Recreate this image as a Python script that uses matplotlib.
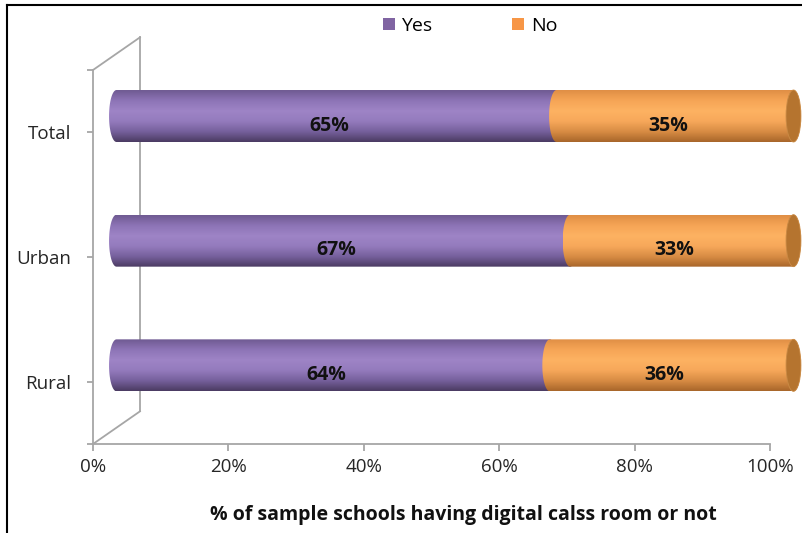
import numpy as np
import matplotlib
matplotlib.use("Agg")
import matplotlib.pyplot as plt
from matplotlib.patches import PathPatch, Ellipse, Patch
from matplotlib.path import Path
from matplotlib.colors import LinearSegmentedColormap
from matplotlib.lines import Line2D

plt.rcParams['font.family'] = ['Open Sans', 'DejaVu Sans']

# данные
categories = ['Rural', 'Urban', 'Total']
yes_vals = [64, 67, 65]
no_vals = [36, 33, 35]
series_names = ['Yes', 'No']
x_ticks = [0, 20, 40, 60, 80, 100]

# цвета цилиндров (сверху вниз)
purple_grad = ['#6f5a92', '#8d74b6', '#9e84c6', '#947bbd', '#76609c', '#4b3b62']
orange_grad = ['#e08f45', '#f6a556', '#fdb262', '#f7a85a', '#d88c44', '#a8662a']
purple = '#8064a2'
orange = '#f79646'
cap_color = '#b5742f'
axis_grey = '#a6a6a6'

fig = plt.figure(figsize=(8.03, 5.33), dpi=100)
ax = fig.add_axes([93 / 803, 1 - 444 / 533, 677 / 803, 374 / 533])
ax.set_xlim(0, 100)
ax.set_ylim(-0.5, 2.5)

# 3D смещение задней стенки
wall_dx, wall_dy = 6.94, 0.262
bar_dx, bar_dy = wall_dx / 2, wall_dy / 2
bar_h = 0.417
ell_a = 1.1  # полуось торца в %


def cyl_path(x0, x1, yc, b, a):
    t = np.linspace(np.pi / 2, -np.pi / 2, 40)
    right = np.column_stack([x1 + a * np.cos(t), yc + b * np.sin(t)])
    t2 = np.linspace(-np.pi / 2, -3 * np.pi / 2, 40)
    left = np.column_stack([x0 + a * np.cos(t2), yc + b * np.sin(t2)])
    verts = np.vstack([right, left, right[:1]])
    codes = [Path.MOVETO] + [Path.LINETO] * (len(verts) - 2) + [Path.CLOSEPOLY]
    return Path(verts, codes)


def draw_cyl(x0, x1, yc, colors, z):
    cm = LinearSegmentedColormap.from_list('g', colors)
    b = bar_h / 2
    patch = PathPatch(cyl_path(x0, x1, yc, b, ell_a), facecolor='none',
                      edgecolor='none', transform=ax.transData)
    ax.add_patch(patch)
    grad = np.linspace(0, 1, 200).reshape(-1, 1)
    im = ax.imshow(grad, extent=[x0 - ell_a, x1 + ell_a, yc - b, yc + b],
                   origin='upper', aspect='auto', cmap=cm,
                   interpolation='bicubic', zorder=z)
    im.set_clip_box(fig.bbox)
    im.set_clip_path(patch)


# задняя стенка
wall_kw = dict(color=axis_grey, lw=1.3, clip_on=False, zorder=1)
ax.plot([wall_dx, wall_dx], [-0.5 + wall_dy, 2.5 + wall_dy], **wall_kw)
ax.plot([0, wall_dx], [2.5, 2.5 + wall_dy], **wall_kw)
ax.plot([0, wall_dx], [-0.5, -0.5 + wall_dy], **wall_kw)

for i, cat in enumerate(categories):
    yc = i + bar_dy
    left = 0
    for k, (val, cols) in enumerate([(yes_vals[i], purple_grad), (no_vals[i], orange_grad)]):
        x0 = left + bar_dx
        x1 = left + val + bar_dx
        draw_cyl(x0, x1, yc, cols, 3 + k)
        ax.text(left + val / 2 + bar_dx * 0.7, i + bar_dy * 0.4, f'{val}%',
                ha='center', va='center', fontsize=14, fontweight='bold',
                color='#111111', zorder=10)
        left += val
    cap = Ellipse((left + bar_dx, yc), 2 * ell_a, bar_h, facecolor=cap_color,
                  edgecolor='#c98a45', lw=0.6, zorder=6, clip_on=False)
    ax.add_patch(cap)

ax.set_ylim(-0.5, 2.5)
ax.set_xlim(0, 100)

# оси
for s in ['top', 'right']:
    ax.spines[s].set_visible(False)
for s in ['left', 'bottom']:
    ax.spines[s].set_color(axis_grey)
    ax.spines[s].set_linewidth(1.3)
ax.set_xticks(x_ticks)
ax.set_xticklabels([f'{t}%' for t in x_ticks])
ax.set_yticks(range(len(categories)))
ax.set_yticklabels(categories)
ax.set_yticks([-0.5, 2.5], minor=True)
ax.tick_params(axis='x', colors=axis_grey, labelcolor='#262626', labelsize=13.5,
               length=5, width=1.3, pad=5)
ax.tick_params(axis='y', which='both', colors=axis_grey, labelcolor='#262626',
               labelsize=13.5, length=4, width=1.3, pad=12)
ax.patch.set_visible(False)

ax.set_xlabel('% of sample schools having digital calss room or not',
              fontsize=14, fontweight='bold', color='#111111')
ax.xaxis.set_label_coords((463 - 93) / 677, -(515 - 444) / 374)
ax.xaxis.label.set_va('center')

handles = [Patch(facecolor=purple, label=series_names[0]),
           Patch(facecolor=orange, label=series_names[1])]
fig.legend(handles=handles, loc='center', bbox_to_anchor=(470 / 803, 1 - 26 / 533),
           ncol=2, frameon=False, fontsize=14, handlelength=0.6,
           handleheight=0.6, handletextpad=0.35, columnspacing=4.1)

# рамка
fig.add_artist(Line2D([7 / 803, 1], [1 - 5 / 533, 1 - 5 / 533], color='black', lw=1.5))
fig.add_artist(Line2D([7 / 803, 7 / 803], [0, 1 - 5 / 533], color='black', lw=1.5))

fig.savefig('out.png', dpi=100)
